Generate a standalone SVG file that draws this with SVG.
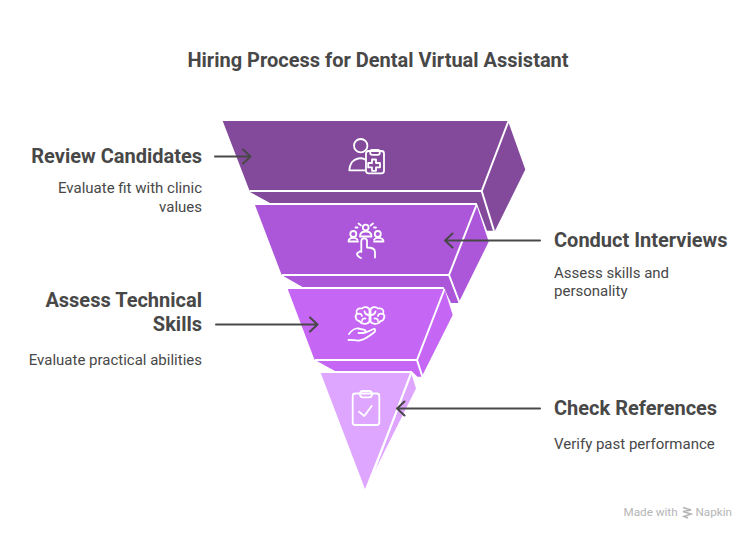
<svg xmlns="http://www.w3.org/2000/svg" width="756" height="540" viewBox="0 0 756 540">
<style>
text{font-family:Roboto,"Liberation Sans",sans-serif;fill:#484848}
.t{font-size:20px;font-weight:700}
.h{font-size:20px;font-weight:700}
.b{font-size:15px;font-weight:400}
.e{text-anchor:end}
.i{fill:none;stroke:#fff;stroke-width:1.8;stroke-linecap:round;stroke-linejoin:round}
.s{fill:none;stroke:#fff;stroke-width:2}
.c{fill:none;stroke:#484848;stroke-width:2;stroke-linecap:round;stroke-linejoin:round}
</style>
<rect width="756" height="540" fill="#fff"/>
<text class="t" x="378" y="67" text-anchor="middle">Hiring Process for Dental Virtual Assistant</text>
<g id="node-review">
<path fill="#834A9C" d="M222.700 121H508L525.300 169.500L495 230.700H487L476.700 203H270L250 192L222.700 121Z"/>
<path class="s" d="M508.500 121L481.700 191H249.500M481.700 191L494 230.700"/>
<g class="i">
<circle cx="360.700" cy="145.700" r="6.700"/>
<path d="M365 159.500C361 157 355 158.500 352 162C350 165 349.300 168 349.300 170.300H364.500"/>
<rect x="366" y="151" width="18" height="22.300" rx="2.500"/>
<rect x="370.200" y="150" width="9.600" height="4.800" rx="2"/>
<path d="M372 159.500h4v3.500h4v4.300h-4v3.500h-4v-3.500h-3.800v-4.300h3.800z"/>
</g>
</g>
<g id="node-interviews">
<path fill="#AC57D9" d="M255 205H476.500L488.700 241.700L458.500 303H451L443.500 287H302.500L285 277L281.700 275Z"/>
<path class="s" d="M476.500 205L449 275H282M449 275L460 304"/>
<g class="i">
<circle cx="365.700" cy="227.500" r="2.900"/>
<path d="M360 236.500C360 233 362.500 231.500 365.700 231.500C369 231.500 371.500 233 371.500 236.500Z"/>
<circle cx="353.300" cy="234" r="3"/>
<path d="M348.500 241.500C348.500 238.800 350.500 237.800 353.300 237.800C355 237.800 356.500 238.300 357.300 239.500M348.500 241.500H358"/>
<circle cx="377.800" cy="234" r="3"/>
<path d="M383.500 241.500C383.500 238.800 381.500 237.800 378 237.800C376.500 237.800 375 238.300 374.200 239.500M383.500 241.500H374"/>
<path d="M358.500 223.500L361 225.500M373 223.500L370.500 225.500M357.500 227.500H355.500M374 227.500H376"/>
<path d="M361.300 252V241C361.300 237.500 367 237.500 367 241V247.500C371 247.500 375 248 375 252V257.500M361.300 250.500L357.500 253C356 254.500 359 257.500 361 258"/>
</g>
</g>
<g id="node-skills">
<path fill="#C566F5" d="M287.700 289H444.500L452.700 315L421.700 376.700H417.500L411.700 371H335L315 360L314.300 359.300Z"/>
<path class="s" d="M444.500 289L417 360H315M417 360L422.500 377"/>
<g class="i">
<path d="M369.500 310C369 307 364 306 362 308.500C358 307.500 355.500 310.500 356.800 313.500C354.500 316 356 321 359.500 321C361 324.500 367.500 324.800 369.500 321.500ZM370.500 310C371 307 376 306 378 308.500C382 307.500 384.500 310.500 383.200 313.500C385.500 316 384 321 380.500 321C379 324.500 372.500 324.800 370.500 321.500Z"/>
<path d="M369.500 315C367 315 365 314 364.500 311.500M357.500 314C359.500 313 361.500 314 362 316M362 321C362 319 364 318 365.500 318.500M370.500 315C373 315 375 314 375.500 311.500M382.500 314C380.500 313 378.500 314 378 316M378 321C378 319 376 318 374.500 318.500"/>
<path d="M349 334C351 331 355 328 358.500 328.500C361 329 365 329.500 365.500 330.500C366 332 364 333 362 333H358.500M363.500 333C367 332.500 371 330 373.500 329C375.500 328.500 375.500 331 374.500 332C370 335.500 365 340 359 340.500C356 340.800 351.500 339.500 348.500 340"/>
</g>
</g>
<g id="node-references">
<path fill="#DFA6FF" d="M320.700 373H411L365 489Z"/>
<path fill="#DFA6FF" d="M411.700 374.500L416 388.500L374 472.500Z"/>
<path class="s" d="M411 373L373.500 472"/>
<g class="i">
<rect x="352.700" y="393.500" width="26.600" height="31.500" rx="2.500"/>
<rect x="360" y="391" width="12" height="6.300" rx="3"/>
<path d="M359 411.700L364.300 416L371.700 406"/>
</g>
</g>
<g id="connectors">
<path class="c" d="M215 156.500H250M243 149.500L250.500 156.500L243 163.500"/>
<path class="c" d="M540 240.500H445M452.500 233.500L445 240.500L452.500 247.500"/>
<path class="c" d="M216 324.500H317M310 317.500L317.500 324.500L310 331.500"/>
<path class="c" d="M540 408.500H397.500M404.500 401.500L397 408.500L404.500 415.500"/>
</g>
<g id="label-review">
<text class="h e" x="202" y="163">Review Candidates</text>
<text class="b e" x="202" y="193">Evaluate fit with clinic</text>
<text class="b e" x="202" y="212">values</text>
</g>
<g id="label-interviews">
<text class="h" x="554" y="247">Conduct Interviews</text>
<text class="b" x="554" y="278">Assess skills and</text>
<text class="b" x="554" y="296">personality</text>
</g>
<g id="label-skills">
<text class="h e" x="202" y="307">Assess Technical</text>
<text class="h e" x="202" y="331">Skills</text>
<text class="b e" x="202" y="365">Evaluate practical abilities</text>
</g>
<g id="label-references">
<text class="h" x="554" y="415">Check References</text>
<text class="b" x="554" y="449">Verify past performance</text>
</g>
<g id="watermark">
<text x="623.500" y="516" font-size="11.700" style="fill:#b5b5b5">Made with</text>
<path d="M683 507.500L691 510L683 511.500L691 514L684 516.500L688 518" fill="none" stroke="#b5b5b5" stroke-width="1.600"/>
<text x="695.500" y="516" font-size="11.700" style="fill:#b5b5b5">Napkin</text>
</g>
</svg>
